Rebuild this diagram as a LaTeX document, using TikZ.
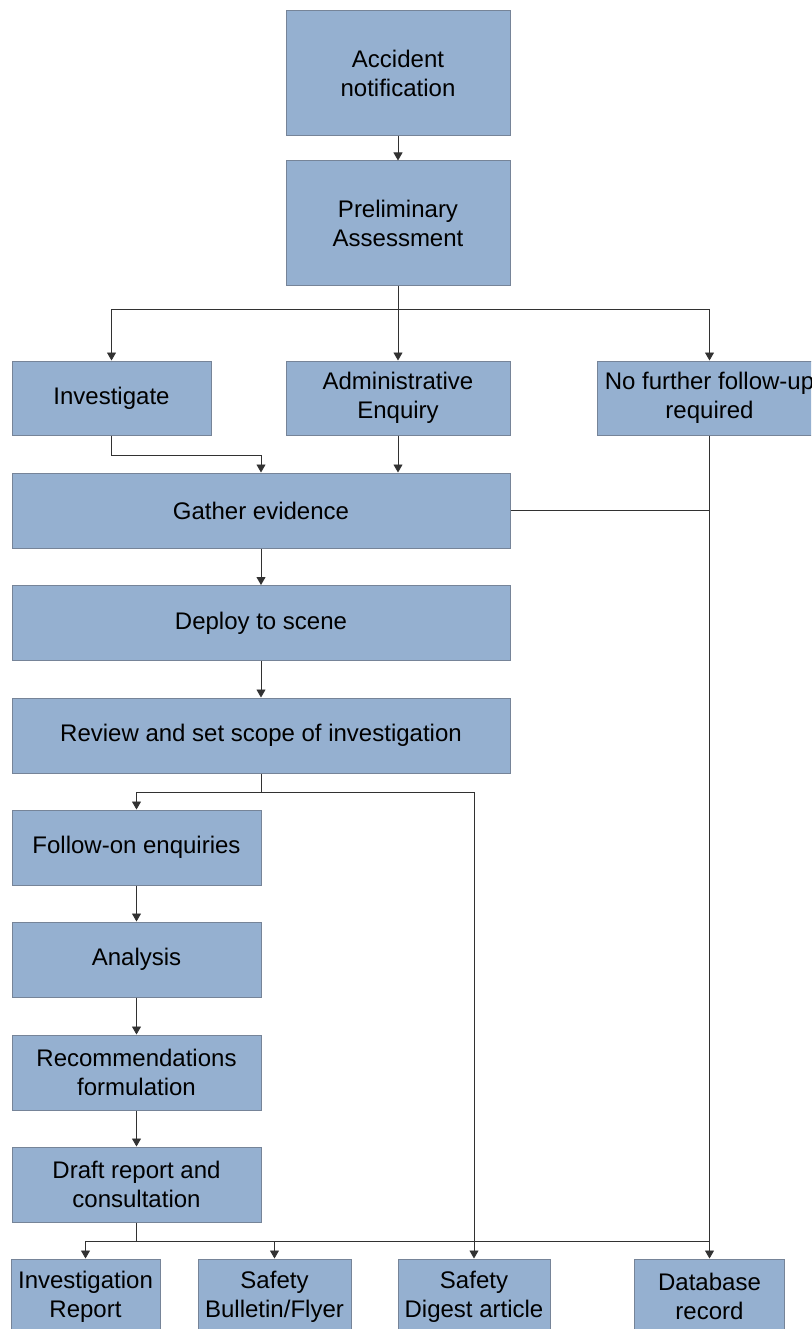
\documentclass[tikz,border=0pt]{standalone}
\usepackage{fontspec}
\setmainfont{Liberation Sans}
\usetikzlibrary{arrows.meta,calc}
\definecolor{boxfill}{RGB}{149,176,208}
\definecolor{boxline}{RGB}{118,132,152}
\definecolor{conn}{RGB}{50,50,50}
\begin{document}
\begin{tikzpicture}[x=1pt,y=-1pt,
  box/.style={draw=boxline,fill=boxfill,line width=1pt,inner sep=0pt,align=center,
    font=\fontsize{24}{29}\selectfont,text=black},
  wbig/.style={box,minimum width=224pt,minimum height=125pt},
  wmid/.style={box,minimum width=224pt,minimum height=74pt},
  wfull/.style={box,minimum width=498pt,minimum height=75pt},
  whalf/.style={box,minimum width=249pt,minimum height=75pt},
  conn/.style={draw=conn,line width=0.9pt},
  arr/.style={conn,-{Triangle[length=8pt,width=9pt]}}]
\useasboundingbox (0,0) rectangle (811,1329);
\clip (0,0) rectangle (811,1329);
\fill[white] (0,0) rectangle (811,1329);

\node[wbig] (acc) at (398,73.5) {Accident\\notification};
\node[wbig] (pre) at (398,223.5) {Preliminary\\Assessment};
\node[wmid,minimum width=199pt] (inv) at (111.5,398) {Investigate};
\node[wmid] (adm) at (398,398) {Administrative\\Enquiry};
\node[wmid] (nff) at (709.5,398) {No further follow-up\\required};
\node[wfull] (gat) at (261,510.5) {Gather evidence};
\node[wfull] (dep) at (261,623) {Deploy to scene};
\node[wfull] (rev) at (261,735.5) {Review and set scope of investigation};
\node[whalf] (fol) at (136.5,847.5) {Follow-on enquiries};
\node[whalf] (ana) at (136.5,959.5) {Analysis};
\node[whalf] (rec) at (136.5,1072.5) {Recommendations\\formulation};
\node[whalf] (dra) at (136.5,1184.5) {Draft report and\\consultation};
\node[box,minimum width=149pt,minimum height=75pt] (ir) at (85.5,1296.5) {Investigation\\Report};
\node[box,minimum width=153pt,minimum height=75pt] (sb) at (274.5,1296.5) {Safety\\Bulletin/Flyer};
\node[box,minimum width=152pt,minimum height=75pt] (sd) at (474,1296.5) {Safety\\Digest article};
\node[box,minimum width=150pt,minimum height=75pt] (db) at (709.5,1296.5) {Database\\record};

% top
\draw[arr] (acc.south) -- (pre.north);
\coordinate (p1) at ($(pre.south)+(0,23)$);
\draw[conn] (pre.south) -- (p1);
\draw[arr] (p1) -| (inv.north);
\draw[arr] (p1) -| (nff.north);
\draw[arr] (p1) -- (adm.north);

% to gather evidence
\draw[arr] (inv.south) -- ++(0,19.5) -| (gat.north);
\draw[arr] (adm.south) -- (adm.south |- gat.north);
\draw[conn] (gat.east) -- (gat.east -| nff.south);
\draw[arr] (nff.south) -- (nff.south |- db.north);

% main chain
\draw[arr] (gat.south) -- (dep.north);
\draw[arr] (dep.south) -- (rev.north);
\coordinate (r1) at ($(rev.south)+(0,19)$);
\draw[conn] (rev.south) -- (r1);
\draw[arr] (r1) -| (fol.north);
\draw[arr] (r1) -| (sd.north);
\draw[arr] (fol.south) -- (ana.north);
\draw[arr] (ana.south) -- (rec.north);
\draw[arr] (rec.south) -- (dra.north);

% outputs
\coordinate (d1) at ($(dra.south)+(0,19)$);
\draw[conn] (dra.south) -- (d1);
\draw[arr] (d1) -| (ir.north);
\draw[arr] (d1) -| (sb.north);
\draw[conn] (d1) -- (d1 -| nff.south);
\end{tikzpicture}
\end{document}
